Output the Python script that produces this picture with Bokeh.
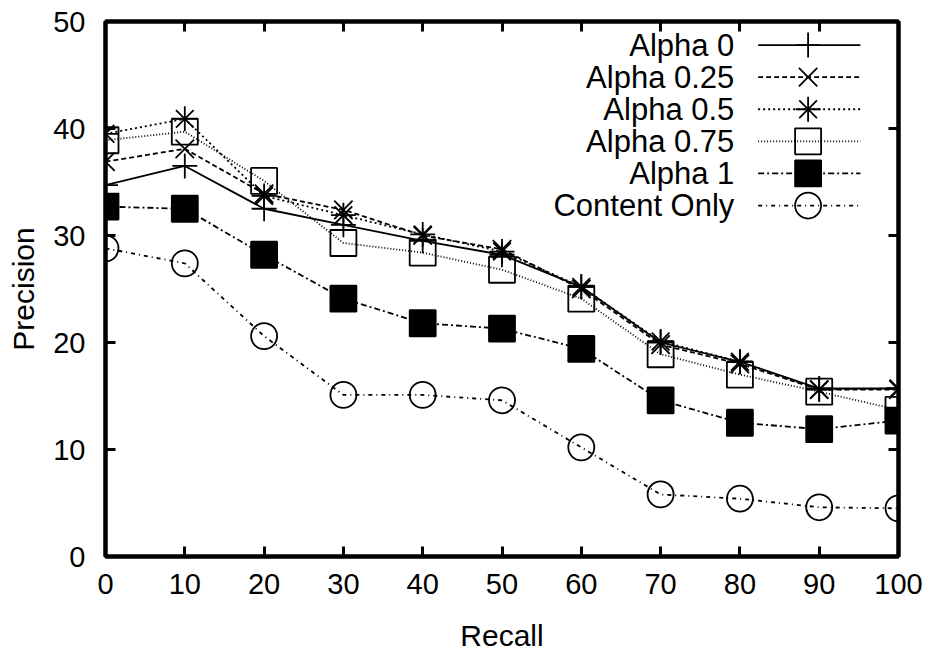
from bokeh.plotting import figure
from bokeh.models import Range1d, LinearAxis, FixedTicker
from bokeh.core.properties import value
from bokeh.embed import file_html
from bokeh.resources import INLINE

# Precision at each recall level for the blended ranking runs
recall = [0, 10, 20, 30, 40, 50, 60, 70, 80, 90, 100]
alpha_0 = [34.7, 36.5, 32.5, 31.0, 29.5, 28.2, 25.2, 20.0, 18.2, 15.7, 15.7]
alpha_025 = [36.9, 38.1, 33.9, 32.4, 30.0, 28.7, 25.0, 19.8, 18.0, 15.6, 15.6]
alpha_05 = [39.5, 40.9, 33.7, 31.9, 30.1, 28.5, 25.2, 20.1, 18.2, 15.6, 15.7]
alpha_075 = [38.9, 39.7, 35.1, 29.3, 28.4, 26.8, 24.1, 18.9, 17.0, 15.4, 13.7]
alpha_1 = [32.7, 32.5, 28.2, 24.1, 21.8, 21.3, 19.4, 14.6, 12.5, 11.9, 12.7]
content_only = [28.8, 27.4, 20.6, 15.1, 15.1, 14.6, 10.2, 5.8, 5.4, 4.6, 4.5]

labels = ["Alpha 0", "Alpha 0.25", "Alpha 0.5", "Alpha 0.75", "Alpha 1", "Content Only"]
x_ticks = [0, 10, 20, 30, 40, 50, 60, 70, 80, 90, 100]
y_ticks = [0, 10, 20, 30, 40, 50]

FONT = "Liberation Sans"

# name, values, dash, marker layers, marker size, filled
series = [
    (labels[0], alpha_0, "solid", ["cross"], 25, False),
    (labels[1], alpha_025, "5 3", ["x"], 26, False),
    (labels[2], alpha_05, "2 3", ["cross", "x"], 25, False),
    (labels[3], alpha_075, "1 2", ["square"], 26, False),
    (labels[4], alpha_1, "6 3 2 3", ["square"], 26, True),
    (labels[5], content_only, "4 4 1 4", ["circle"], 26, False),
]

p = figure(width=930, height=654, output_backend="svg", toolbar_location=None,
           x_range=Range1d(0, 100), y_range=Range1d(0, 50),
           min_border_left=105, min_border_right=32,
           min_border_top=21, min_border_bottom=96,
           x_axis_label="Recall", y_axis_label="Precision")

p.background_fill_color = "white"
p.border_fill_color = "white"
p.xgrid.visible = False
p.ygrid.visible = False
p.outline_line_color = "black"
p.outline_line_width = 4

p.xaxis.ticker = FixedTicker(ticks=x_ticks)
p.yaxis.ticker = FixedTicker(ticks=y_ticks)

for ax in (p.xaxis[0], p.yaxis[0]):
    ax.axis_line_color = "black"
    ax.axis_line_width = 4
    ax.major_tick_line_color = "black"
    ax.major_tick_line_width = 3
    ax.major_tick_in = 10
    ax.major_tick_out = 0
    ax.minor_tick_line_color = None
    ax.major_label_text_font = FONT
    ax.major_label_text_font_size = "29px"
    ax.major_label_text_color = "black"
    ax.axis_label_text_font = FONT
    ax.axis_label_text_font_size = "30px"
    ax.axis_label_text_font_style = "normal"
    ax.axis_label_text_color = "black"

p.yaxis.major_label_standoff = 20
p.yaxis.axis_label_standoff = 10
p.xaxis.major_label_standoff = 17
p.xaxis.axis_label_standoff = 22

# mirrored inward ticks on the top and right edges (tick marks only)
for side, ticks in (("above", x_ticks), ("right", y_ticks)):
    ax = LinearAxis(ticker=FixedTicker(ticks=ticks))
    ax.axis_line_color = "black"
    ax.axis_line_width = 4
    ax.major_tick_line_width = 3
    ax.major_tick_in = 10
    ax.major_tick_out = 0
    ax.minor_tick_line_color = None
    ax.major_label_text_color = None
    ax.major_label_text_font_size = "1px"
    ax.major_label_standoff = 0
    p.add_layout(ax, side)

for name, ys, dash, markers, size, filled in series:
    p.line(recall, ys, line_color="black", line_width=1.8, line_dash=dash)
    for m in markers:
        p.scatter(recall, ys, marker=m, size=size, line_color="black",
                  line_width=1.8, fill_color="black" if filled else None)

# key in the upper right: label, sample line, marker
key_text_x = 79.3
key_line_x0, key_line_x1 = 82.3, 95.2
key_mark_x = 88.6
key_top, key_step = 47.8, 3.0
for i, (name, ys, dash, markers, size, filled) in enumerate(series):
    ky = key_top - i * key_step
    p.text(x=[key_text_x], y=[ky], text=[name], text_align="right",
           text_baseline="middle", text_font=value(FONT),
           text_font_size="31px", text_color="black")
    p.line([key_line_x0, key_line_x1], [ky, ky], line_color="black",
           line_width=1.8, line_dash=dash)
    for m in markers:
        p.scatter([key_mark_x], [ky], marker=m, size=size, line_color="black",
                  line_width=1.8, fill_color="black" if filled else None)

open("out.html", "w").write(file_html(p, INLINE))
